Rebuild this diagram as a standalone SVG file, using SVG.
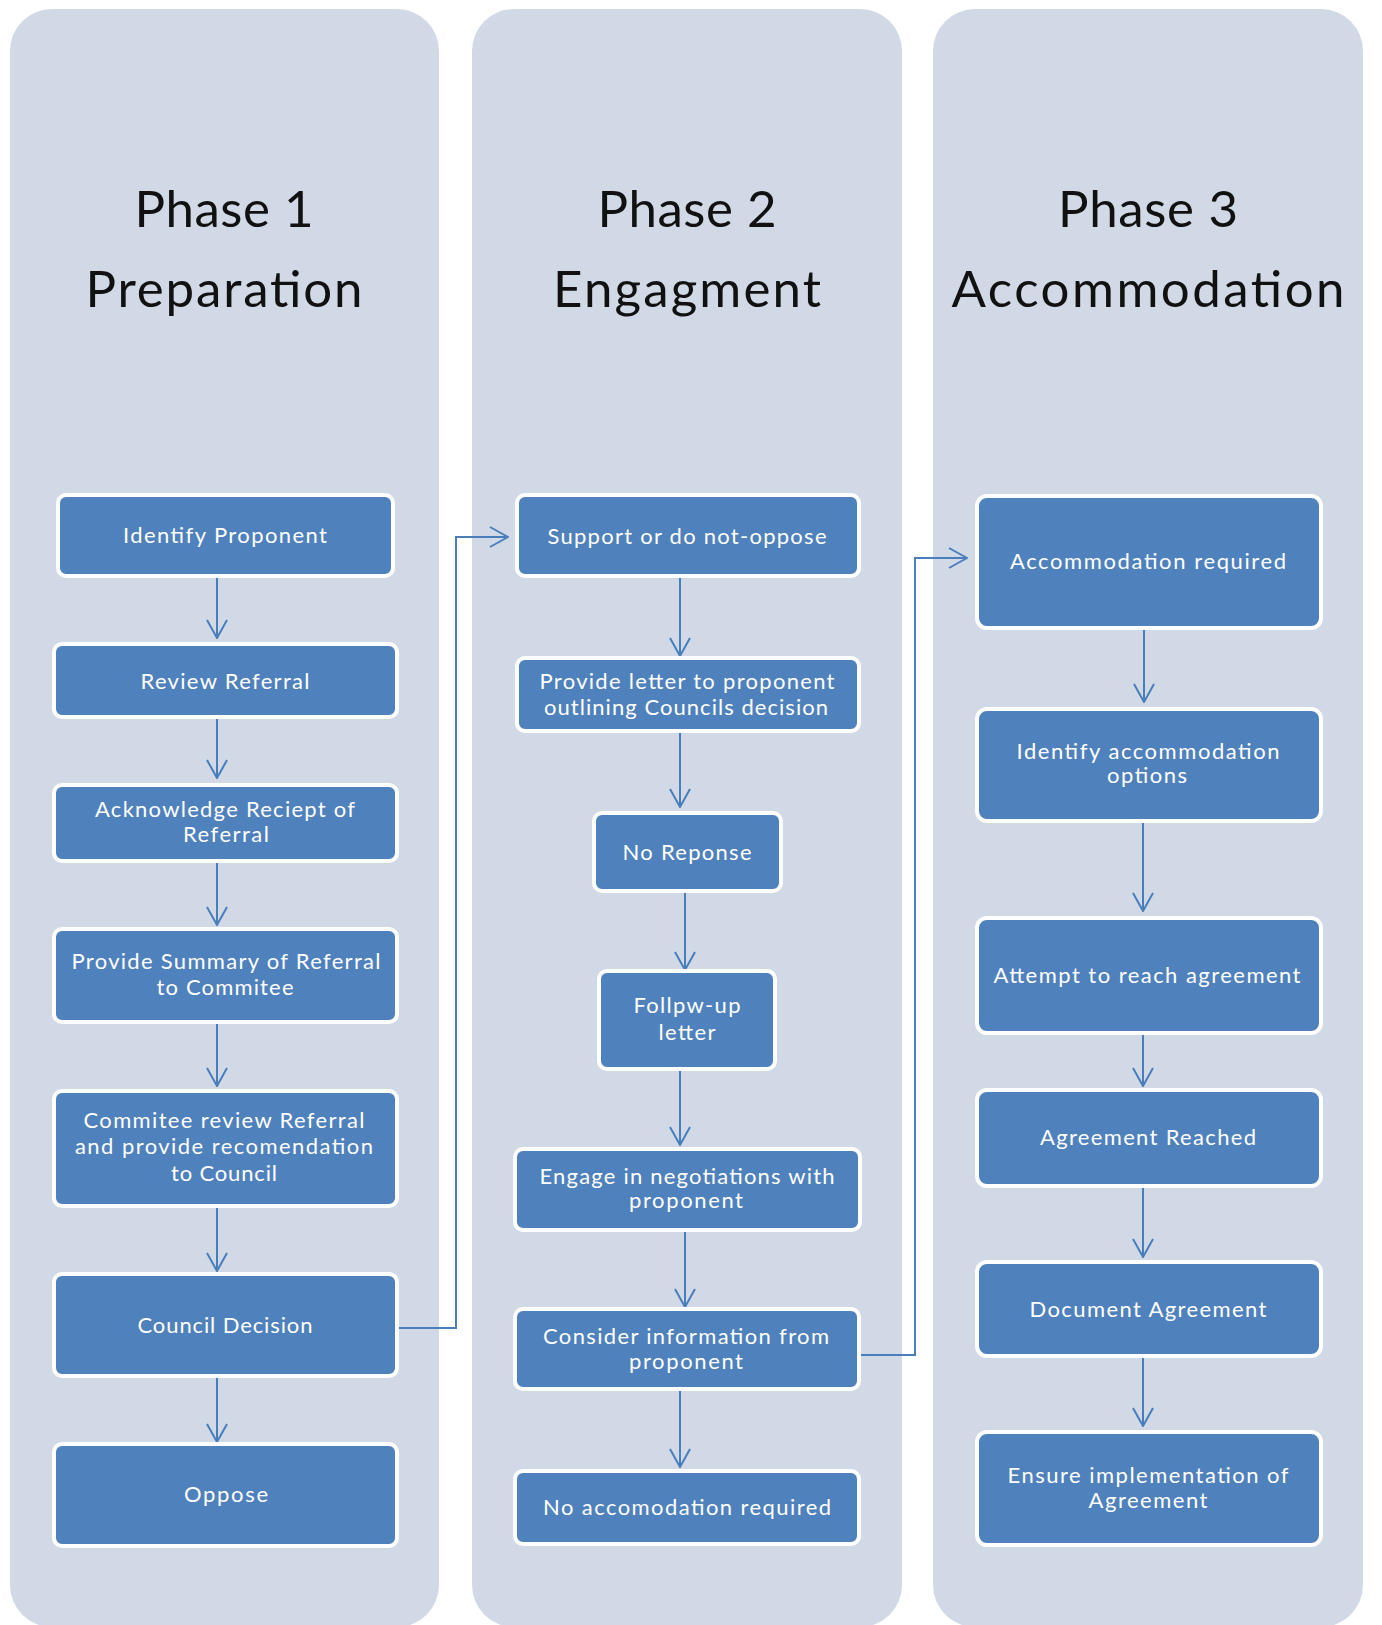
<svg xmlns="http://www.w3.org/2000/svg" width="1382" height="1625" viewBox="0 0 1382 1625">
<defs>
<style>
.col{fill:#D1D9E7;}
.title{font-family:Lato,"Liberation Sans",sans-serif;font-size:51px;fill:#111;text-anchor:middle;}
.box{fill:#4F81BD;stroke:#FFFFFF;stroke-width:4;}
.lbl{font-family:Lato,"Liberation Sans",sans-serif;font-size:22px;fill:#FFFFFF;text-anchor:middle;}
.conn{fill:none;stroke:#4A7EBB;stroke-width:2;}
</style>
<marker id="arr" markerUnits="userSpaceOnUse" viewBox="0 0 20 22" refX="19" refY="11" markerWidth="20" markerHeight="22" orient="auto">
<path d="M1,1 L19,11 L1,21" fill="none" stroke="#4A7EBB" stroke-width="2"/>
</marker>
</defs>
<rect width="1382" height="1625" fill="#FFFFFF"/>

<g id="phase1">
<rect class="col" x="10" y="9" width="429" height="1618" rx="42"/>
<text class="title" x="224" y="227" textLength="179">Phase 1</text>
<text class="title" x="224" y="307" textLength="277">Preparation</text>
</g>
<g id="phase2">
<rect class="col" x="472" y="9" width="430" height="1618" rx="42"/>
<text class="title" x="687" y="227" textLength="179">Phase 2</text>
<text class="title" x="687" y="307" textLength="268">Engagment</text>
</g>
<g id="phase3">
<rect class="col" x="933" y="9" width="430" height="1618" rx="42"/>
<text class="title" x="1148" y="227" textLength="180">Phase 3</text>
<text class="title" x="1148" y="307" textLength="393">Accommodation</text>
</g>

<g id="connectors">
<line class="conn" x1="217" y1="578" x2="217" y2="638" marker-end="url(#arr)"/>
<line class="conn" x1="217" y1="719" x2="217" y2="778" marker-end="url(#arr)"/>
<line class="conn" x1="217" y1="863" x2="217" y2="925" marker-end="url(#arr)"/>
<line class="conn" x1="217" y1="1024" x2="217" y2="1086" marker-end="url(#arr)"/>
<line class="conn" x1="217" y1="1208" x2="217" y2="1271" marker-end="url(#arr)"/>
<line class="conn" x1="217" y1="1378" x2="217" y2="1442" marker-end="url(#arr)"/>

<line class="conn" x1="680" y1="578" x2="680" y2="656" marker-end="url(#arr)"/>
<line class="conn" x1="680" y1="733" x2="680" y2="807" marker-end="url(#arr)"/>
<line class="conn" x1="685" y1="893" x2="685" y2="970" marker-end="url(#arr)"/>
<line class="conn" x1="680" y1="1071" x2="680" y2="1145" marker-end="url(#arr)"/>
<line class="conn" x1="685" y1="1232" x2="685" y2="1307" marker-end="url(#arr)"/>
<line class="conn" x1="680" y1="1391" x2="680" y2="1467" marker-end="url(#arr)"/>

<line class="conn" x1="1144" y1="630" x2="1144" y2="702" marker-end="url(#arr)"/>
<line class="conn" x1="1143" y1="823" x2="1143" y2="911" marker-end="url(#arr)"/>
<line class="conn" x1="1143" y1="1035" x2="1143" y2="1086" marker-end="url(#arr)"/>
<line class="conn" x1="1143" y1="1188" x2="1143" y2="1257" marker-end="url(#arr)"/>
<line class="conn" x1="1143" y1="1358" x2="1143" y2="1426" marker-end="url(#arr)"/>

<path class="conn" d="M399,1328 H456 V537 H508" marker-end="url(#arr)"/>
<path class="conn" d="M861,1355 H915 V558 H967" marker-end="url(#arr)"/>
</g>

<g id="identify-proponent">
<rect class="box" x="58" y="495" width="335" height="81" rx="8"/>
<text class="lbl" x="225" y="543" textLength="204">Identify Proponent</text>
</g>
<g id="review-referral">
<rect class="box" x="54" y="644" width="343" height="73" rx="8"/>
<text class="lbl" x="225" y="689" textLength="169">Review Referral</text>
</g>
<g id="acknowledge">
<rect class="box" x="54" y="785" width="343" height="76" rx="8"/>
<text class="lbl" x="225" y="817" textLength="260">Acknowledge Reciept of</text>
<text class="lbl" x="226" y="842" textLength="86">Referral</text>
</g>
<g id="provide-summary">
<rect class="box" x="54" y="929" width="343" height="93" rx="8"/>
<text class="lbl" x="226" y="969" textLength="309">Provide Summary of Referral</text>
<text class="lbl" x="225" y="995" textLength="137">to Commitee</text>
</g>
<g id="committee-review">
<rect class="box" x="54" y="1091" width="343" height="115" rx="8"/>
<text class="lbl" x="224" y="1128" textLength="281">Commitee review Referral</text>
<text class="lbl" x="224" y="1154" textLength="298">and provide recomendation</text>
<text class="lbl" x="224" y="1181" textLength="106">to Council</text>
</g>
<g id="council-decision">
<rect class="box" x="54" y="1274" width="343" height="102" rx="8"/>
<text class="lbl" x="225" y="1333" textLength="175">Council Decision</text>
</g>
<g id="oppose">
<rect class="box" x="54" y="1444" width="343" height="102" rx="8"/>
<text class="lbl" x="226" y="1502" textLength="84">Oppose</text>
</g>

<g id="support">
<rect class="box" x="517" y="495" width="342" height="81" rx="8"/>
<text class="lbl" x="687" y="544" textLength="279">Support or do not-oppose</text>
</g>
<g id="provide-letter">
<rect class="box" x="517" y="658" width="342" height="73" rx="8"/>
<text class="lbl" x="687" y="689" textLength="295">Provide letter  to proponent</text>
<text class="lbl" x="686" y="715" textLength="284">outlining Councils decision</text>
</g>
<g id="no-response">
<rect class="box" x="594" y="813" width="187" height="78" rx="8"/>
<text class="lbl" x="687" y="860" textLength="129">No Reponse</text>
</g>
<g id="follow-up">
<rect class="box" x="599" y="971" width="176" height="98" rx="8"/>
<text class="lbl" x="687" y="1013" textLength="107">Follpw-up</text>
<text class="lbl" x="687" y="1040" textLength="57">letter</text>
</g>
<g id="engage">
<rect class="box" x="515" y="1149" width="345" height="81" rx="8"/>
<text class="lbl" x="687" y="1184" textLength="295">Engage in negotiations with</text>
<text class="lbl" x="686" y="1208" textLength="114">proponent</text>
</g>
<g id="consider">
<rect class="box" x="515" y="1309" width="344" height="80" rx="8"/>
<text class="lbl" x="686" y="1344" textLength="286">Consider information from</text>
<text class="lbl" x="686" y="1369" textLength="114">proponent</text>
</g>
<g id="no-accommodation">
<rect class="box" x="515" y="1471" width="344" height="73" rx="8"/>
<text class="lbl" x="687" y="1515" textLength="288">No accomodation required</text>
</g>

<g id="accommodation-required">
<rect class="box" x="977" y="496" width="344" height="132" rx="10"/>
<text class="lbl" x="1148" y="569" textLength="276">Accommodation required</text>
</g>
<g id="identify-options">
<rect class="box" x="977" y="709" width="344" height="112" rx="10"/>
<text class="lbl" x="1148" y="759" textLength="263">Identify accommodation</text>
<text class="lbl" x="1147" y="783" textLength="80">options</text>
</g>
<g id="attempt">
<rect class="box" x="977" y="918" width="344" height="115" rx="10"/>
<text class="lbl" x="1147" y="983" textLength="307">Attempt to reach agreement</text>
</g>
<g id="agreement-reached">
<rect class="box" x="977" y="1090" width="344" height="96" rx="10"/>
<text class="lbl" x="1148" y="1145" textLength="216">Agreement Reached</text>
</g>
<g id="document-agreement">
<rect class="box" x="977" y="1262" width="344" height="94" rx="10"/>
<text class="lbl" x="1148" y="1317" textLength="237">Document Agreement</text>
</g>
<g id="ensure-implementation">
<rect class="box" x="977" y="1432" width="344" height="113" rx="10"/>
<text class="lbl" x="1148" y="1483" textLength="281">Ensure implementation  of</text>
<text class="lbl" x="1148" y="1508" textLength="119">Agreement</text>
</g>
</svg>
